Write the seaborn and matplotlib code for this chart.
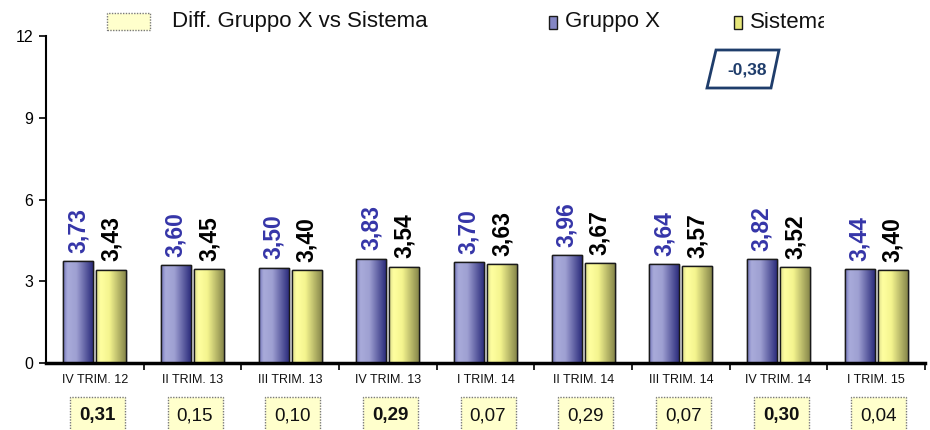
import numpy as np
import pandas as pd
import matplotlib
matplotlib.use("Agg")
import matplotlib.pyplot as plt
import seaborn as sns
from matplotlib.colors import LinearSegmentedColormap
from matplotlib.patches import Rectangle, Polygon
from matplotlib.transforms import blended_transform_factory

# ---- data ----
periods = ["IV TRIM. 12", "II TRIM. 13", "III TRIM. 13", "IV TRIM. 13", "I TRIM. 14",
           "II TRIM. 14", "III TRIM. 14", "IV TRIM. 14", "I TRIM. 15"]
gruppo_x = [3.73, 3.60, 3.50, 3.83, 3.70, 3.96, 3.64, 3.82, 3.44]
sistema = [3.43, 3.45, 3.40, 3.54, 3.63, 3.67, 3.57, 3.52, 3.40]
diff_labels = ["0,31", "0,15", "0,10", "0,29", "0,07", "0,29", "0,07", "0,30", "0,04"]
diff_bold = [True, False, False, True, False, False, False, True, False]
note_value = "-0,38"
y_ticks = [0, 3, 6, 9, 12]
series_names = ["Gruppo X", "Sistema"]
diff_title = "Diff. Gruppo X vs Sistema"

sns.set_theme(style="white")
plt.rcParams["font.family"] = ["Liberation Sans", "DejaVu Sans"]

df = pd.DataFrame({
    "Periodo": periods * 2,
    "Valore": gruppo_x + sistema,
    "Serie": [series_names[0]] * len(periods) + [series_names[1]] * len(periods),
})

W, H = 930, 430
fig = plt.figure(figsize=(W / 100, H / 100), dpi=100)
ax = fig.add_axes([46 / W, 67 / H, 879 / W, 327 / H])

base_colors = {series_names[0]: "#9c9ed2", series_names[1]: "#f5f58c"}
sns.barplot(data=df, x="Periodo", y="Valore", hue="Serie", palette=base_colors,
            width=0.68, gap=0.1, edgecolor="#1a1a1a", linewidth=1,
            legend=False, ax=ax)

ax.set_xlim(-0.5, len(periods) - 0.5)
ax.set_ylim(0, 12)

# horizontal shading on the bars
blue_cmap = LinearSegmentedColormap.from_list(
    "blu", [(0, "#6e70b8"), (0.15, "#a9abda"), (0.45, "#9ea0d2"), (1, "#2c2c7c")])
yellow_cmap = LinearSegmentedColormap.from_list(
    "gia", [(0, "#d8d888"), (0.15, "#ffffa0"), (0.45, "#f4f48e"), (1, "#86864a")])
grad = np.linspace(0, 1, 256).reshape(1, -1)
label_colors = ["#3535a8", "#000000"]

for cont, cmap, lcol in zip(ax.containers, [blue_cmap, yellow_cmap], label_colors):
    for bar in cont:
        x0, w, h = bar.get_x(), bar.get_width(), bar.get_height()
        z = bar.get_zorder()
        im = ax.imshow(grad, cmap=cmap, extent=[x0, x0 + w, 0, h], aspect="auto",
                       origin="lower", interpolation="bicubic", zorder=z + 0.1)
        im.set_clip_path(bar)
        ax.add_patch(Rectangle((x0, 0), w, h, fill=False, edgecolor="#1a1a1a",
                               lw=1, zorder=z + 0.2))
        ax.text(x0 + w / 2, h + 0.3, f"{h:.2f}".replace(".", ","), rotation=90,
                ha="center", va="bottom", fontsize=16.5, fontweight="bold",
                color=lcol, zorder=5)

ax.set_xlim(-0.5, len(periods) - 0.5)
ax.set_ylim(0, 12)
ax.set_xlabel("")
ax.set_ylabel("")
ax.grid(False)

# axes styling
ax.set_yticks(y_ticks)
ax.tick_params(axis="y", left=True, direction="out", length=5, width=1.2,
               color="black", labelsize=11.5, pad=4, labelcolor="black")
ax.tick_params(axis="x", which="major", bottom=False, length=0, labelsize=9,
               pad=8, labelcolor="#111111")
ax.set_xticks(np.arange(0.5, len(periods), 1), minor=True)
ax.tick_params(axis="x", which="minor", bottom=True, direction="out", length=5,
               width=1.2, color="black")
for side in ["top", "right"]:
    ax.spines[side].set_visible(False)
ax.spines["left"].set_color("black")
ax.spines["left"].set_linewidth(1.5)
ax.spines["bottom"].set_color("black")
ax.spines["bottom"].set_linewidth(2.5)
ax.spines["bottom"].set_zorder(6)

# difference boxes under the categories
trans = blended_transform_factory(ax.transData, ax.transAxes)
for i, (lab, bold) in enumerate(zip(diff_labels, diff_bold)):
    cx = i + 0.025
    ax.add_patch(Rectangle((cx - 0.28, -0.32), 0.563, 0.216, transform=trans,
                           clip_on=False, facecolor="#ffffcc", edgecolor="#7a7a7a",
                           linestyle=(0, (1, 1)), lw=1))
    ax.text(cx, -0.162, lab, transform=trans, ha="center", va="center",
            fontsize=13.5, fontweight="bold" if bold else "normal", color="#111111")


def fp(x, y):
    return x / W, 1 - y / H


# legend row
fig.patches.append(Rectangle(fp(107, 30), 43 / W, 17 / H, transform=fig.transFigure,
                             facecolor="#ffffcc", edgecolor="#7a7a7a",
                             linestyle=(0, (1, 1)), lw=1))
fig.text(*fp(172, 22), diff_title, fontsize=16, va="center", ha="left", color="#111111")

fig.patches.append(Rectangle(fp(549, 29), 8 / W, 13 / H, transform=fig.transFigure,
                             facecolor="#8486c4", edgecolor="#1a1a1a", lw=1))
fig.text(*fp(565, 22), series_names[0], fontsize=16, va="center", ha="left",
         color="#111111")

fig.patches.append(Rectangle(fp(734, 29), 8 / W, 13 / H, transform=fig.transFigure,
                             facecolor="#e6e67a", edgecolor="#1a1a1a", lw=1))
t = fig.text(*fp(750, 22), series_names[1], fontsize=16, va="center", ha="left",
             color="#111111")
# the legend entry is cut off by its frame on the right
clip_rect = Rectangle(fp(740, 45), (824 - 740) / W, 45 / H, transform=fig.transFigure,
                      visible=False)
fig.patches.append(clip_rect)
t.set_clip_path(clip_rect)

# annotated parallelogram
poly = Polygon([fp(716, 50), fp(779, 50), fp(771, 88), fp(707, 88)], closed=True,
               transform=fig.transFigure, facecolor="white", edgecolor="#1f3d6b", lw=2)
fig.patches.append(poly)
fig.text(*fp(747, 70), note_value, fontsize=12.5, fontweight="bold",
         color="#1f3d6b", ha="center", va="center")

fig.savefig("out.png", dpi=100)
